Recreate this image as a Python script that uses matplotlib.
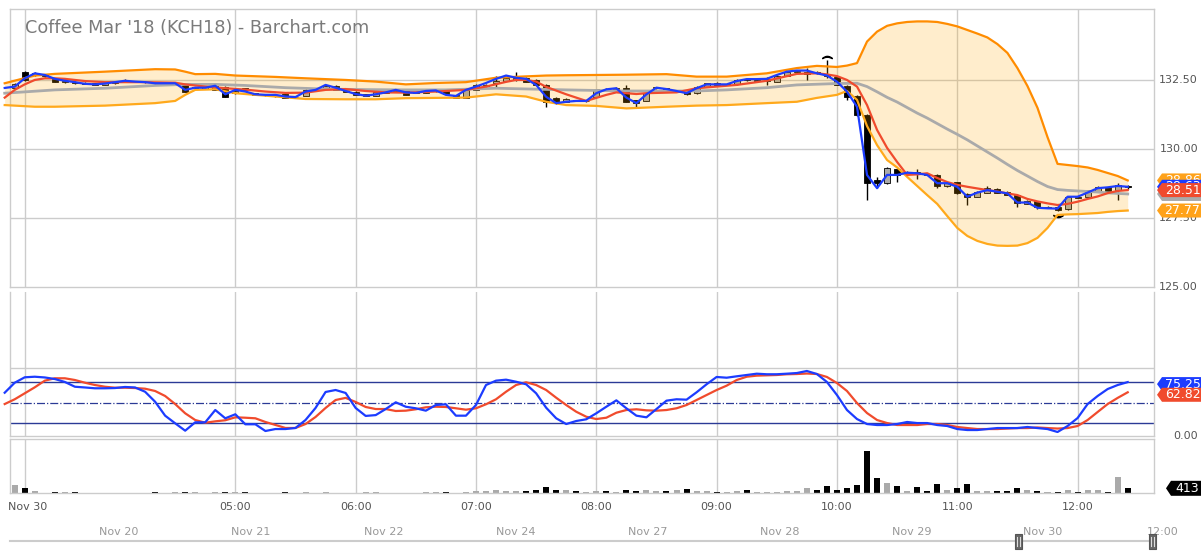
import matplotlib
matplotlib.use("Agg")
import matplotlib.pyplot as plt
import numpy as np
from matplotlib.patches import Polygon, Rectangle
from matplotlib.transforms import IdentityTransform, blended_transform_factory

# --- DATA (5-minute bars, index 1..112; index 0 only feeds the indicator lines) ---
bars = np.arange(1, 113)

opens = [132.20, 132.80, 132.68, 132.64, 132.54, 132.41, 132.43, 132.39, 132.38, 132.32,
         132.39, 132.45, 132.46, 132.43, 132.41, 132.39, 132.37, 132.32, 132.21, 132.19,
         132.14, 132.26, 132.02, 132.20, 132.02, 131.98, 131.96, 131.98, 131.90, 131.93,
         132.12, 132.17, 132.29, 132.14, 132.08, 131.93, 131.93, 132.03, 132.10, 132.14,
         132.07, 132.03, 132.10, 132.14, 131.96, 131.86, 132.14, 132.28, 132.38, 132.46,
         132.50, 132.56, 132.50, 132.32, 131.85, 131.71, 131.78, 131.73, 131.89, 132.19,
         132.19, 132.22, 131.78, 131.74, 132.20, 132.20, 132.08, 132.08, 132.02, 132.26,
         132.38, 132.33, 132.34, 132.53, 132.48, 132.46, 132.44, 132.66, 132.78, 132.71,
         132.79, 132.71, 132.60, 132.29, 131.92, 131.23, 128.88, 128.76, 129.28, 129.11,
         129.17, 129.11, 129.06, 128.66, 128.79, 128.37, 128.27, 128.42, 128.55, 128.44,
         128.33, 128.01, 128.12, 127.87, 127.90, 127.81, 128.27, 128.27, 128.45, 128.62,
         128.51, 128.65]
highs = [132.39, 132.83, 132.77, 132.72, 132.57, 132.46, 132.45, 132.41, 132.39, 132.43,
         132.45, 132.54, 132.48, 132.45, 132.43, 132.41, 132.39, 132.34, 132.26, 132.25,
         132.34, 132.28, 132.12, 132.21, 132.03, 131.99, 131.97, 131.99, 131.92, 132.16,
         132.17, 132.32, 132.32, 132.16, 132.10, 131.99, 132.07, 132.10, 132.19, 132.16,
         132.08, 132.08, 132.14, 132.16, 131.97, 132.16, 132.34, 132.36, 132.66, 132.59,
         132.80, 132.59, 132.52, 132.34, 131.88, 131.83, 131.79, 131.76, 132.19, 132.21,
         132.25, 132.32, 131.79, 132.03, 132.26, 132.21, 132.10, 132.08, 132.28, 132.39,
         132.41, 132.36, 132.52, 132.54, 132.52, 132.62, 132.68, 132.79, 132.84, 132.92,
         132.81, 133.22, 132.62, 132.32, 131.94, 131.25, 128.99, 129.33, 129.29, 129.19,
         129.27, 129.13, 129.08, 128.79, 128.81, 128.39, 128.48, 128.67, 128.57, 128.46,
         128.35, 128.15, 128.13, 127.92, 127.92, 128.30, 128.30, 128.53, 128.66, 128.64,
         128.76, 128.70]
lows = [132.17, 132.46, 132.64, 132.61, 132.43, 132.39, 132.37, 132.34, 132.30, 132.30,
        132.37, 132.43, 132.41, 132.39, 132.36, 132.36, 132.36, 132.05, 132.19, 132.17,
        132.12, 131.87, 132.00, 132.12, 131.94, 131.92, 131.90, 131.85, 131.85, 131.92,
        132.10, 132.16, 132.12, 132.07, 131.94, 131.92, 131.92, 132.01, 132.08, 131.94,
        132.01, 132.01, 132.08, 131.96, 131.83, 131.85, 132.12, 132.26, 132.26, 132.45,
        132.48, 132.41, 132.30, 131.53, 131.63, 131.70, 131.72, 131.70, 131.88, 132.14,
        132.17, 131.70, 131.50, 131.72, 132.17, 132.08, 132.07, 131.96, 132.00, 132.25,
        132.30, 132.31, 132.33, 132.47, 132.46, 132.32, 132.43, 132.64, 132.76, 132.50,
        132.72, 132.56, 132.30, 131.78, 131.20, 128.15, 128.58, 128.73, 128.82, 129.08,
        128.90, 129.04, 128.58, 128.64, 128.37, 127.97, 128.26, 128.41, 128.39, 128.32,
        127.89, 127.99, 127.83, 127.85, 127.77, 127.80, 128.23, 128.26, 128.44, 128.46,
        128.15, 128.55]
closes = [132.34, 132.50, 132.74, 132.68, 132.44, 132.45, 132.39, 132.36, 132.32, 132.40,
          132.43, 132.48, 132.43, 132.41, 132.38, 132.37, 132.38, 132.08, 132.25, 132.23,
          132.29, 131.89, 132.10, 132.14, 131.96, 131.94, 131.93, 131.86, 131.87, 132.14,
          132.16, 132.29, 132.14, 132.08, 131.96, 131.98, 132.05, 132.07, 132.14, 131.96,
          132.03, 132.07, 132.12, 131.98, 131.86, 132.14, 132.32, 132.32, 132.46, 132.56,
          132.58, 132.44, 132.32, 131.71, 131.66, 131.81, 131.74, 131.74, 132.16, 132.16,
          132.21, 131.71, 131.66, 132.02, 132.23, 132.10, 132.08, 131.98, 132.26, 132.38,
          132.32, 132.34, 132.50, 132.49, 132.50, 132.54, 132.66, 132.78, 132.83, 132.80,
          132.74, 132.63, 132.32, 131.89, 131.23, 128.78, 128.76, 129.30, 129.06, 129.15,
          129.14, 129.06, 128.66, 128.76, 128.40, 128.26, 128.45, 128.58, 128.41, 128.33,
          128.03, 128.13, 127.89, 127.90, 127.79, 128.27, 128.24, 128.51, 128.63, 128.48,
          128.70, 128.63]
volume = [730, 440, 200, 0, 90, 90, 90, 0, 0, 0,
          0, 0, 0, 0, 90, 0, 90, 90, 90, 0,
          90, 90, 90, 90, 0, 0, 0, 90, 0, 90,
          0, 90, 0, 0, 0, 90, 90, 0, 0, 0,
          0, 115, 115, 115, 0, 115, 200, 200, 290, 200,
          200, 200, 290, 530, 290, 290, 200, 115, 200, 200,
          115, 290, 200, 290, 200, 200, 290, 380, 200, 200,
          115, 115, 200, 290, 115, 115, 115, 200, 200, 470,
          290, 640, 290, 470, 730, 3720, 1350, 900, 640, 200,
          550, 200, 820, 290, 470, 820, 200, 200, 200, 200,
          470, 290, 200, 115, 115, 290, 115, 290, 290, 115,
          1430, 413]

# price line (blue), bars 0..112
line_idx = np.arange(0, 113)
price_line = [132.21, 132.26, 132.56, 132.74, 132.68, 132.54, 132.47, 132.42, 132.36, 132.34,
              132.37, 132.42, 132.47, 132.44, 132.42, 132.38, 132.38, 132.38, 132.14, 132.22,
              132.22, 132.29, 131.98, 132.14, 132.08, 131.98, 131.96, 131.96, 131.90, 131.88,
              132.08, 132.14, 132.32, 132.22, 132.10, 131.99, 131.93, 131.98, 132.05, 132.14,
              132.05, 132.03, 132.10, 132.12, 131.96, 131.92, 132.14, 132.26, 132.39, 132.54,
              132.66, 132.58, 132.54, 132.32, 131.89, 131.66, 131.71, 131.74, 131.74, 132.02,
              132.16, 132.20, 131.86, 131.66, 131.98, 132.22, 132.17, 132.10, 132.02, 132.20,
              132.34, 132.34, 132.34, 132.46, 132.53, 132.53, 132.54, 132.68, 132.80, 132.84,
              132.84, 132.74, 132.66, 132.44, 132.08, 131.53, 129.06, 128.58, 129.06, 129.06,
              129.14, 129.12, 129.06, 128.76, 128.76, 128.63, 128.27, 128.42, 128.51, 128.45,
              128.39, 128.06, 128.06, 127.87, 127.85, 127.84, 128.27, 128.27, 128.42, 128.58,
              128.61, 128.66, 128.63]

# moving average (red)
ma_idx = [0, 1, 2, 3, 4, 5, 6, 7, 8, 10, 14, 17, 18, 20, 22, 24, 26, 28, 30, 32,
          34, 36, 38, 40, 43, 46, 48, 50, 51, 52, 53, 54, 56, 58, 60, 61, 63, 64, 67, 69,
          73, 76, 79, 81, 82, 83, 84, 85, 86] + list(range(87, 113))
ma_val = [131.86, 132.14, 132.34, 132.50, 132.56, 132.56, 132.54, 132.50, 132.46, 132.42,
          132.42, 132.40, 132.34, 132.26, 132.20, 132.15, 132.08, 132.03, 132.04, 132.14,
          132.17, 132.10, 132.05, 132.04, 132.08, 132.14, 132.26, 132.43, 132.50, 132.50,
          132.44, 132.25, 131.98, 131.74, 131.96, 132.05, 131.99, 132.02, 132.05, 132.20,
          132.32, 132.47, 132.72, 132.74, 132.70, 132.64, 132.50, 132.26, 131.59,
          130.69, 130.04, 129.53, 129.06, 129.08, 129.12, 128.95, 128.80, 128.70, 128.63,
          128.57, 128.51, 128.46, 128.39, 128.33, 128.19, 128.10, 128.03, 127.97, 128.01,
          128.09, 128.19, 128.28, 128.40, 128.48, 128.51]

# bollinger middle (gray)
mid_idx = [0, 5, 10, 15, 18, 21, 24, 28, 32, 36, 40, 44, 49, 56, 62, 69, 72, 76, 79, 83,
           85] + list(range(86, 113))
mid_val = [132.02, 132.14, 132.20, 132.30, 132.34, 132.34, 132.30, 132.22, 132.17, 132.15,
           132.14, 132.14, 132.20, 132.14, 132.10, 132.10, 132.14, 132.22, 132.32, 132.37,
           132.38, 132.26, 132.07, 131.87, 131.70, 131.50, 131.30, 131.12, 130.92, 130.72,
           130.53, 130.33, 130.11, 129.89, 129.67, 129.44, 129.22, 129.02, 128.82, 128.64,
           128.53, 128.50, 128.48, 128.46, 128.44, 128.41, 128.39, 128.37]

# bollinger bands (orange)
band_idx = [0, 3, 5, 10, 15, 17, 18, 19, 21, 23, 27, 30, 34, 37, 40, 43, 46, 49, 52, 54,
            56, 59, 62, 66, 69, 72, 76, 79, 81, 83, 84, 85] + list(range(86, 113))
band_upper = [132.38, 132.66, 132.72, 132.80, 132.89, 132.88, 132.80, 132.71, 132.72, 132.66,
              132.61, 132.56, 132.50, 132.44, 132.34, 132.39, 132.42, 132.58, 132.63, 132.66,
              132.67, 132.68, 132.69, 132.71, 132.62, 132.62, 132.74, 132.93, 133.01, 132.97,
              133.02, 133.11, 133.89, 134.25, 134.46, 134.55, 134.60, 134.62, 134.62, 134.60,
              134.53, 134.44, 134.31, 134.18, 134.04, 133.80, 133.48, 132.93, 132.28, 131.49,
              130.43, 129.46, 129.42, 129.38, 129.33, 129.24, 129.13, 129.02, 128.86]
band_lower = [131.59, 131.53, 131.53, 131.57, 131.66, 131.74, 131.96, 132.14, 132.16, 132.02,
              131.90, 131.81, 131.80, 131.80, 131.84, 131.85, 131.86, 131.98, 131.90, 131.71,
              131.59, 131.56, 131.47, 131.53, 131.57, 131.59, 131.66, 131.71, 131.85, 131.96,
              132.10, 131.78, 130.83, 130.14, 129.60, 129.33, 128.99, 128.66, 128.33, 128.01,
              127.57, 127.14, 126.85, 126.67, 126.56, 126.50, 126.49, 126.50, 126.59, 126.78,
              127.14, 127.61, 127.63, 127.64, 127.66, 127.68, 127.72, 127.75, 127.77]

# stochastic %K (blue) and %D (red), bars 0..112
stoch_k = [62.3, 74.5, 81.1, 81.8, 80.9, 79.0, 75.4, 69.6, 68.7, 67.7,
           67.7, 68.0, 69.3, 68.7, 63.5, 51.3, 34.3, 25.0, 16.0, 26.2,
           26.2, 41.2, 31.1, 36.0, 23.8, 23.8, 15.6, 18.0, 18.0, 19.3,
           29.0, 43.7, 63.2, 65.6, 62.0, 43.7, 34.0, 35.0, 42.4, 50.6,
           45.2, 43.3, 40.4, 47.3, 48.2, 34.3, 34.3, 47.3, 71.7, 77.0,
           78.2, 75.7, 72.6, 61.6, 44.0, 31.1, 24.1, 27.8, 29.9, 37.2,
           45.2, 53.0, 43.3, 34.3, 32.3, 42.4, 52.6, 54.3, 53.8, 62.8,
           72.6, 81.5, 80.6, 82.3, 83.9, 85.5, 84.8, 84.8, 85.5, 86.3,
           88.8, 85.1, 75.4, 59.5, 41.2, 30.2, 24.1, 22.9, 22.9, 24.1,
           26.6, 25.3, 25.3, 22.9, 21.7, 18.0, 16.8, 16.8, 18.0, 19.2,
           19.2, 19.2, 20.5, 19.2, 18.0, 14.4, 21.7, 31.4, 48.5, 58.3,
           66.8, 71.7, 75.25]
stoch_d = [48.5, 54.3, 61.6, 68.9, 77.0, 79.9, 79.9, 77.8, 74.5, 71.7,
           69.6, 68.4, 68.4, 68.0, 67.2, 64.4, 58.3, 48.5, 37.2, 29.0,
           25.7, 27.4, 28.7, 32.3, 31.8, 31.1, 26.6, 23.0, 19.3, 19.3,
           24.1, 32.7, 43.7, 53.4, 56.0, 51.0, 44.9, 42.4, 42.4, 40.0,
           40.4, 42.1, 44.5, 45.2, 44.9, 43.3, 41.6, 43.3, 48.2, 54.3,
           63.5, 71.7, 75.0, 71.7, 65.6, 56.2, 47.3, 39.1, 33.0, 30.2,
           31.8, 37.9, 41.2, 42.1, 40.8, 40.4, 41.2, 43.3, 47.3, 53.4,
           59.5, 65.6, 70.9, 77.8, 81.8, 83.1, 83.5, 83.9, 84.8, 85.1,
           85.7, 85.1, 81.5, 74.1, 64.4, 49.7, 37.5, 29.0, 25.3, 22.9,
           22.9, 22.9, 24.1, 24.1, 22.9, 20.5, 19.2, 18.0, 18.0, 18.0,
           18.6, 19.2, 19.2, 19.9, 19.2, 18.6, 19.2, 21.7, 29.0, 38.8,
           48.5, 56.0, 62.82]

hour_ticks = [2, 23, 35, 47, 59, 71, 83, 95, 107]
hour_labels = ['Nov 30', '05:00', '06:00', '07:00', '08:00', '09:00', '10:00', '11:00', '12:00']
nav_labels = ['Nov 20', 'Nov 21', 'Nov 22', 'Nov 24', 'Nov 27', 'Nov 28', 'Nov 29', 'Nov 30', '12:00']
price_ticks = [132.5, 130.0, 127.5, 125.0]

# --- FIGURE ---
W, H = 1204, 556
fig = plt.figure(figsize=(W / 100, H / 100), dpi=100)
GRID = '#cccccc'
BLUE, RED, GRAY = '#1c3cff', '#f04b2d', '#aaaaaa'
ORANGE_UP, ORANGE_LO = '#ff8c00', '#ffa91c'
NAVY = '#2b3a96'

X0, DX = 4.7, 10.027          # pixel of bar 0, pixels per bar
xlim = ((10 - X0) / DX, (1154 - X0) / DX)


def panel(top, bottom):
    a = fig.add_axes([10 / W, 1 - bottom / H, 1144 / W, (bottom - top) / H])
    a.set_xlim(*xlim)
    a.set_xticks([])
    a.set_yticks([])
    for s in a.spines.values():
        s.set_color(GRID)
        s.set_linewidth(1)
    for t in hour_ticks:
        a.axvline(t, color=GRID, lw=1, zorder=0)
    return a


ax = panel(9, 287)
ax_st = panel(292, 436)
ax_v = panel(439, 493)
ax_st.spines['top'].set_visible(False)

# main price panel
ax.set_ylim(125.0, 135.07)
for v in price_ticks[:-1]:
    ax.axhline(v, color=GRID, lw=1, zorder=0)

o, h, l, c = map(np.array, (opens, highs, lows, closes))
up = c >= o
ax.vlines(bars, l, h, color='black', lw=1, zorder=2)
ax.bar(bars, np.maximum(np.abs(c - o), 0.01), bottom=np.minimum(o, c), width=0.6,
       color=np.where(up, '#aaaaaa', 'black'), edgecolor='black', linewidth=0.6, zorder=2.5)
# session high / low markers
ax.plot(bars[np.argmax(h)], h.max() + 0.1, marker=r'$\frown$', ms=7, color='black', zorder=3)
ax.plot(bars[np.argmin(l)], l.min() - 0.2, marker=r'$\smile$', ms=7, color='black', zorder=3)

ax.fill_between(band_idx, band_lower, band_upper, color='#ffa500', alpha=0.2, lw=0,
                zorder=3, clip_on=False)
ax.plot(mid_idx, mid_val, color=GRAY, lw=2, zorder=4, clip_on=False)
ax.plot(band_idx, band_upper, color=ORANGE_UP, lw=1.6, zorder=4, clip_on=False)
ax.plot(band_idx, band_lower, color=ORANGE_LO, lw=1.6, zorder=4, clip_on=False)
ax.plot(ma_idx, ma_val, color=RED, lw=1.6, zorder=5, clip_on=False)
ax.plot(line_idx, price_line, color=BLUE, lw=1.6, zorder=6, clip_on=False)

ymap = blended_transform_factory(fig.transFigure, ax.transData)
for v in price_ticks:
    ax.text(1198 / W, v, f'{v:.2f}', transform=ymap, ha='right', va='center',
            fontsize=8, color='#555555')

# stochastic panel
k = 0.82  # pixels per stochastic unit
ax_st.set_ylim(25 - (436 - 423.3) / k, 75 + (382.3 - 292) / k)
ax_st.axhline(75 + (382.3 - 368) / k, color=GRID, lw=1, zorder=0)
ax_st.axhline(75, color=NAVY, lw=1, zorder=1)
ax_st.axhline(25, color=NAVY, lw=1, zorder=1)
ax_st.axhline(50, color=NAVY, lw=0.9, ls='-.', zorder=1)
ax_st.plot(line_idx, stoch_d, color=RED, lw=1.6, zorder=3, clip_on=False)
ax_st.plot(line_idx, stoch_k, color=BLUE, lw=1.6, zorder=4, clip_on=False)
fig.text(1198 / W, 1 - 436 / H, '0.00', ha='right', va='center', fontsize=8, color='#555555')

# volume panel
ax_v.set_ylim(0, 4750)
ax_v.bar(bars, volume, width=0.6, color=np.where(up, '#aaaaaa', 'black'), zorder=2)

fig.canvas.draw()


def tag(a, val, text, color, z, x_tip=1157, x_right=1201, hh=14, dy=0.0):
    yc = a.transData.transform((0, val))[1] + dy
    pts = [(x_tip, yc), (x_tip + 5, yc + hh / 2), (x_right, yc + hh / 2),
           (x_right, yc - hh / 2), (x_tip + 5, yc - hh / 2)]
    fig.add_artist(Polygon(pts, closed=True, transform=IdentityTransform(),
                           facecolor=color, edgecolor='none', zorder=z))
    fig.text((x_tip + 5 + x_right) / 2 + 1, yc, text, transform=IdentityTransform(),
             ha='center', va='center', fontsize=9, color='white', zorder=z + 0.5)


tag(ax, band_upper[-1], f'{band_upper[-1] - 100:.2f}', '#ffa21a', 10)
tag(ax, price_line[-1], f'{price_line[-1] - 100:.2f}', BLUE, 11)
tag(ax, mid_val[-1], f'{mid_val[-1] - 100:.2f}', GRAY, 12)
tag(ax, band_lower[-1], f'{band_lower[-1] - 100:.2f}', '#ffa21a', 13)
tag(ax, closes[-1] - 0.12, '28.51', RED, 14)
tag(ax_st, stoch_k[-1], f'{stoch_k[-1]:.2f}', BLUE, 10, dy=-2)
tag(ax_st, stoch_d[-1], f'{stoch_d[-1]:.2f}', RED, 11, dy=-2.5)
tag(ax_v, volume[-1], str(volume[-1]), 'black', 10, x_tip=1166, hh=15)

# title
fig.text(25 / W, 1 - 28 / H, "Coffee Mar '18 (KCH18) - Barchart.com", ha='left', va='center',
         fontsize=12.7, color='#7a7a7a')

# time axis labels
for t, lab in zip(hour_ticks, hour_labels):
    px = X0 + DX * t
    if lab == 'Nov 30':
        px += 3
    fig.text(px / W, 1 - 507 / H, lab, ha='center', va='center', fontsize=8, color='#555555')

# navigator strip
nav_x = [119, 251, 384, 516, 648, 780, 912, 1043, 1163]
for px, lab in zip(nav_x, nav_labels):
    fig.text(px / W, 1 - 532 / H, lab, ha='center', va='center', fontsize=8, color='#999999')
fig.add_artist(plt.Line2D([10, 1155], [H - 541, H - 541], transform=IdentityTransform(),
                          color=GRID, lw=1.5))
for hx in (1015, 1149):
    fig.add_artist(Rectangle((hx, H - 549), 7, 15, transform=IdentityTransform(),
                             facecolor='#666666', edgecolor='#555555', lw=0.8, zorder=5))
    for dx in (2.3, 4.7):
        fig.add_artist(plt.Line2D([hx + dx, hx + dx], [H - 546, H - 537],
                                  transform=IdentityTransform(), color='#dddddd', lw=0.8,
                                  zorder=6))

fig.savefig('out.png', dpi=100)
